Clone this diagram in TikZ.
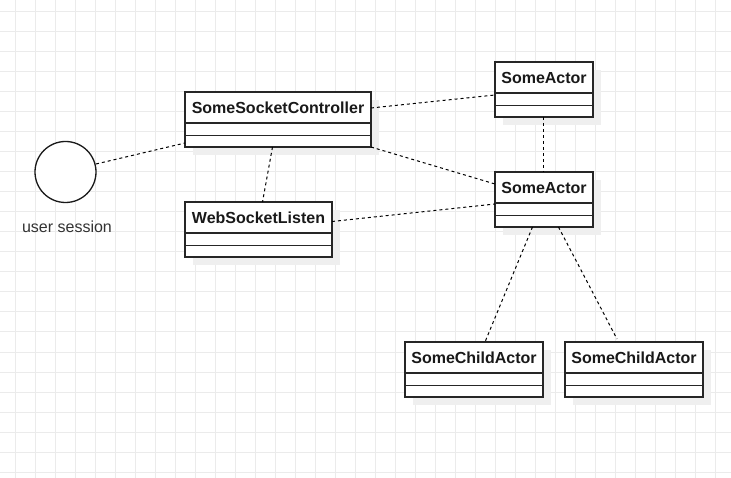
\documentclass[tikz,border=0pt]{standalone}
\usepackage{fontspec}
\setmainfont{Liberation Sans}
\usetikzlibrary{calc}
\definecolor{gridc}{HTML}{EBEBEB}
\definecolor{shadowc}{HTML}{EFEFEF}
\definecolor{txtc}{HTML}{333333}
\newcommand{\umlclass}[6]{%
  % #1 name, #2 x1, #3 y1, #4 x2, #5 y2, #6 title
  \fill[shadowc] (#2+8,#3+8) rectangle (#4+8,#5+8);
  \node[clsbox, minimum width={(#4-#2)*1pt}, minimum height={(#5-#3)*1pt}] (#1) at ({(#2+#4)/2},{(#3+#5)/2}) {};
  \draw[clsline] ($(#1.north west)+(0,31)$) -- ($(#1.north east)+(0,31)$);
  \draw[clsline] ($(#1.north west)+(0,43.5)$) -- ($(#1.north east)+(0,43.5)$);
  \node[clstitle] (#1-t) at ($(#1.north)+(0,15.5)$) {#6};
}
\begin{document}
\begin{tikzpicture}[x=1pt,y=-1pt,
  clsbox/.style={draw=black!85, line width=1.3pt, fill=white, inner sep=0pt, outer sep=0pt},
  clsline/.style={draw=black!85, line width=1.3pt},
  clstitle/.style={font=\fontsize{16}{19}\selectfont\bfseries, text=black!90, inner sep=0pt},
  conn/.style={draw=black, line width=1pt, dash pattern=on 3pt off 3pt},
  lbl/.style={font=\fontsize{16}{19}\selectfont, text=txtc, inner sep=0pt}]
\useasboundingbox (0,0) rectangle (731,478);
\fill[white] (0,0) rectangle (731,478);
% grid
\foreach \gx in {15.5,35.5,...,731} {\draw[gridc, line width=1pt] (\gx,0) -- (\gx,478);}
\foreach \gy in {12,32,...,478} {\draw[gridc, line width=1pt] (0,\gy) -- (731,\gy);}
% classes
\umlclass{ssc}{185}{92}{371}{147}{SomeSocketController}
\umlclass{wsl}{185}{202}{332}{257}{WebSocketListen}
\umlclass{sa1}{495}{62}{593}{117}{SomeActor}
\umlclass{sa2}{495}{172}{593}{227}{SomeActor}
\umlclass{sca1}{405}{342}{543}{397}{SomeChildActor}
\umlclass{sca2}{565}{342}{703}{397}{SomeChildActor}
% user session
\node[draw=black!90, line width=1.3pt, circle, minimum size=61pt, inner sep=0pt, fill=white] (us) at (65.5,172) {};
\node[lbl] (usl) at (67,227) {user session};
% connector ends
\coordinate (c1a) at (96,164);
\coordinate (c1b) at (185,143);
\coordinate (c2a) at (371,108);
\coordinate (c2b) at (495,95);
\coordinate (c3a) at (371,147);
\coordinate (c3b) at (495,184);
\coordinate (c4a) at (272.5,147);
\coordinate (c4b) at (262.5,202);
\coordinate (c5a) at (332,221.5);
\coordinate (c5b) at (495,204);
\coordinate (c6a) at (543.5,117);
\coordinate (c6b) at (543.5,172);
\coordinate (c7a) at (532.5,227);
\coordinate (c7b) at (485,342);
\coordinate (c8a) at (558.5,227);
\coordinate (c8b) at (617,339);
\draw[conn] (c1a) -- (c1b);
\draw[conn] (c2a) -- (c2b);
\draw[conn] (c3a) -- (c3b);
\draw[conn] (c4a) -- (c4b);
\draw[conn] (c5a) -- (c5b);
\draw[conn] (c6a) -- (c6b);
\draw[conn] (c7a) -- (c7b);
\draw[conn] (c8a) -- (c8b);
\end{tikzpicture}
\end{document}
